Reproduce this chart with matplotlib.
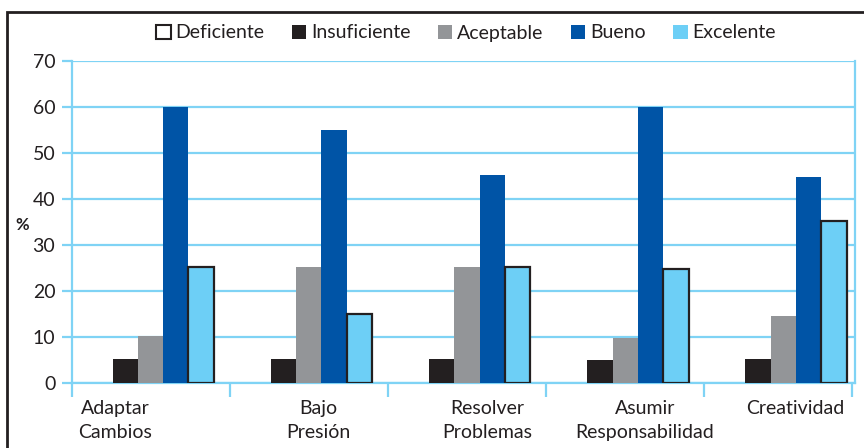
import matplotlib.pyplot as plt
from matplotlib.patches import Patch, Rectangle
import numpy as np

plt.rcParams['font.family'] = ['Lato', 'DejaVu Sans']

# data
categorias = ['Adaptar\nCambios', 'Bajo\nPresión', 'Resolver\nProblemas',
              'Asumir\nResponsabilidad', 'Creatividad']
series = ['Deficiente', 'Insuficiente', 'Aceptable', 'Bueno', 'Excelente']
deficiente = [0, 0, 0, 0, 0]
insuficiente = [5.3, 5.3, 5.3, 5.0, 5.3]
aceptable = [10.2, 25.2, 25.2, 9.8, 14.6]
bueno = [60, 55, 45.2, 60, 44.8]
excelente = [25.2, 15, 25.2, 24.8, 35.2]

colores = ['white', '#231f20', '#939598', '#0054a6', '#6dcff6']
azul_claro = '#7fd3f5'
texto = '#231f20'

valores = [deficiente, insuficiente, aceptable, bueno, excelente]

fig = plt.figure(figsize=(8.64, 4.48), dpi=100)
ax = fig.add_axes([72/864, 1 - 383/448, (855 - 72)/864, (383 - 61)/448])

x = np.arange(len(categorias))
w = 0.16
for i, (vals, col) in enumerate(zip(valores, colores)):
    pos = x + (i - 2) * w
    if series[i] == 'Excelente':
        ax.bar(pos, vals, w, color=col, edgecolor='#231f20', linewidth=1.6, zorder=3)
    else:
        ax.bar(pos, vals, w, color=col, linewidth=0, zorder=3)

x0, x1 = -0.496, 4.452
ax.set_xlim(x0, x1)
ax.set_ylim(0, 70)
ax.set_yticks(range(0, 71, 10))
ax.yaxis.grid(True, color=azul_claro, linewidth=1.6, zorder=0)
ax.set_axisbelow(True)

for s in ['left', 'bottom', 'right']:
    ax.spines[s].set_color(azul_claro)
    ax.spines[s].set_linewidth(1.6)
ax.spines['top'].set_visible(False)

ax.tick_params(axis='y', direction='out', length=7, width=1.6, color=azul_claro,
               labelsize=14, labelcolor=texto, pad=5)

# category boundaries as major ticks, labels on minor ticks
ax.set_xticks([x0, 0.5, 1.5, 2.5, 3.5, x1 - 0.02])
ax.set_xticklabels([])
ax.tick_params(axis='x', which='major', direction='out', length=10, width=1.6,
               color=azul_claro)
label_pos = [-0.224, 1.058, 2.126, 3.125, 4.073]
ax.set_xticks(label_pos, minor=True)
ax.set_xticklabels(categorias, minor=True)
ax.tick_params(axis='x', which='minor', length=0, pad=12, labelsize=14,
               labelcolor=texto)
for lab in ax.get_xticklabels(minor=True):
    lab.set_linespacing(1.55)

fig.text(22/864, 1 - 225/448, '%', fontsize=12, fontweight='bold', color=texto,
         ha='center', va='center')

handles = [Patch(facecolor=c, edgecolor='#231f20' if c == 'white' else c,
                 linewidth=1.5 if c == 'white' else 0) for c in colores]
fig.legend(handles, series, loc='center', bbox_to_anchor=(466/864, 1 - 33/448),
           ncol=5, frameon=False, fontsize=14, handlelength=0.75, handleheight=0.75,
           handletextpad=0.25, columnspacing=1.4, labelcolor=texto)

# outer frame of the chart
fig.patches.append(Rectangle((7/864, -0.1), 1.2, 1.1 - 12/448, transform=fig.transFigure,
                             fill=False, edgecolor='#231f20', linewidth=2, clip_on=False))

fig.savefig('out.png', dpi=100)
